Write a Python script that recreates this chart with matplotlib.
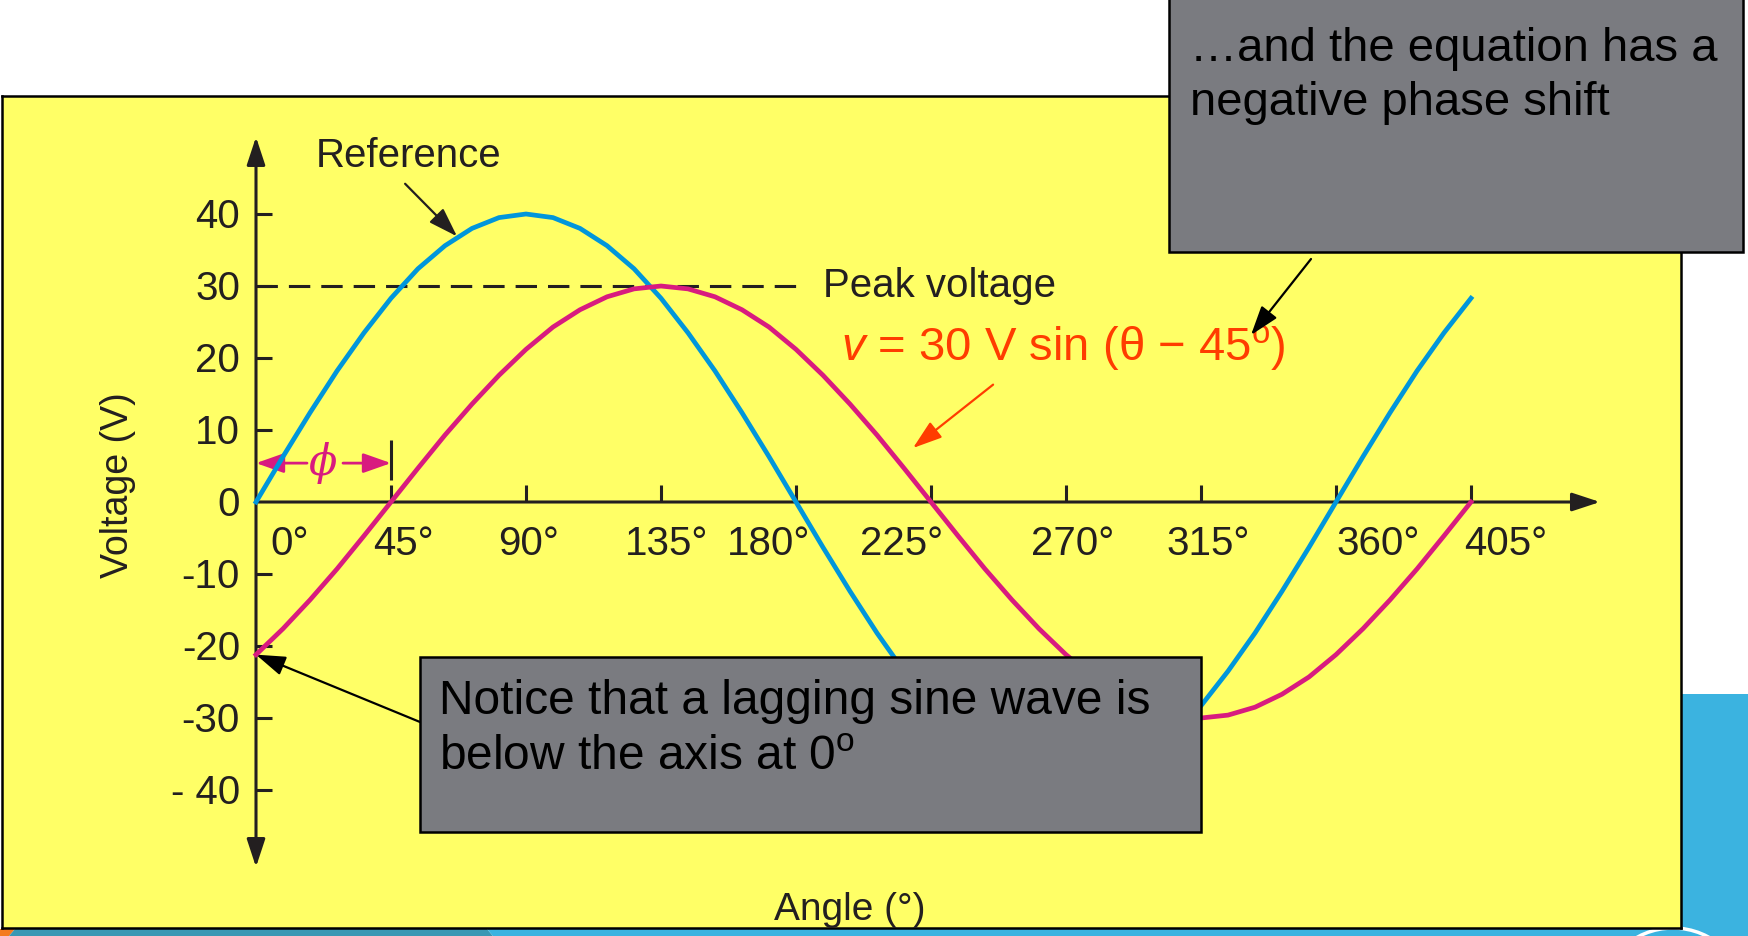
import matplotlib
matplotlib.use('Agg')
import matplotlib.pyplot as plt
from matplotlib.patches import Rectangle, Polygon, Circle

plt.rcParams['font.family'] = ['Liberation Sans', 'DejaVu Sans']
plt.rcParams['mathtext.fontset'] = 'custom'
plt.rcParams['mathtext.rm'] = 'Liberation Sans'
plt.rcParams['mathtext.it'] = 'Liberation Sans:italic'

# readings every 9 degrees
angle = list(range(0, 406, 9))
reference = [0, 6.3, 12.4, 18.2, 23.5, 28.3, 32.4, 35.6, 38.0, 39.5, 40,
             39.5, 38.0, 35.6, 32.4, 28.3, 23.5, 18.2, 12.4, 6.3, 0,
             -6.3, -12.4, -18.2, -23.5, -28.3, -32.4, -35.6, -38.0, -39.5, -40,
             -39.5, -38.0, -35.6, -32.4, -28.3, -23.5, -18.2, -12.4, -6.3, 0,
             6.3, 12.4, 18.2, 23.5, 28.3]
lagging = [-21.2, -17.6, -13.6, -9.3, -4.7, 0, 4.7, 9.3, 13.6, 17.6, 21.2,
           24.3, 26.7, 28.5, 29.6, 30, 29.6, 28.5, 26.7, 24.3, 21.2,
           17.6, 13.6, 9.3, 4.7, 0, -4.7, -9.3, -13.6, -17.6, -21.2,
           -24.3, -26.7, -28.5, -29.6, -30, -29.6, -28.5, -26.7, -24.3, -21.2,
           -17.6, -13.6, -9.3, -4.7, 0]

angle_ticks = [0, 45, 90, 135, 180, 225, 270, 315, 360, 405]
angle_labels = ['0°', '45°', '90°', '135°', '180°', '225°', '270°', '315°', '360°', '405°']
angle_label_x = [11.3, 49, 90.7, 136.7, 170.7, 215.3, 272.3, 317.3, 374, 416.7]
volt_ticks = [40, 30, 20, 10, 0, -10, -20, -30, -40]
volt_labels = ['40', '30', '20', '10', '0', '-10', '-20', '-30', '- 40']
peak = 30
phase = 45

W, H = 1749, 936
K = '#231f20'
BLUE = '#0096db'
PINK = '#d81b7f'
RED = '#ff3c00'
GRAY = '#7a7b80'

fig = plt.figure(figsize=(W / 100, H / 100), dpi=100)

# slide background: stripes along the bottom and right edge
bg = fig.add_axes([0, 0, 1, 1], zorder=0)
bg.set_xlim(0, W)
bg.set_ylim(H, 0)
bg.axis('off')
bg.add_patch(Polygon([(0, 929), (15, 929), (9, 936), (0, 936)], color='#f47b20', lw=0))
bg.add_patch(Polygon([(15, 929), (487, 929), (493, 936), (9, 936)], color='#3a98b4', lw=0))
bg.add_patch(Polygon([(487, 929), (W, 929), (W, 936), (493, 936)], color='#3bb3e0', lw=0))
bg.add_patch(Rectangle((1682, 694), W - 1682, H - 694, color='#3bb3e0', lw=0))
bg.add_patch(Circle((1673, 1002), 74, fill=False, ec='white', lw=2.5))

# chart panel: 0 deg at x=256px, 3 px per degree; 0 V at y=502px, 7.2 px per volt
ax = fig.add_axes([2 / W, (H - 928) / H, (1681 - 2) / W, (928 - 96) / H], zorder=1)
ax.set_facecolor('#ffff66')
ax.set_xlim((2 - 256) / 3, (1681 - 256) / 3)
ax.set_ylim((502 - 928) / 7.2, (502 - 96) / 7.2)
ax.set_xticks([])
ax.set_yticks([])
for s in ax.spines.values():
    s.set_linewidth(1.8)
    s.set_color('black')

# axes with arrowheads
ax.annotate('', xy=(448, 0), xytext=(0, 0),
            arrowprops=dict(arrowstyle='-|>,head_length=0.85,head_width=0.28',
                            color=K, lw=2.2, mutation_scale=20, shrinkA=0, shrinkB=0))
ax.annotate('', xy=(0, 50.7), xytext=(0, -50.7),
            arrowprops=dict(arrowstyle='<|-|>,head_length=0.85,head_width=0.28',
                            color=K, lw=2.2, mutation_scale=20, shrinkA=0, shrinkB=0))
ax.vlines(angle_ticks[1:], 0, 2.4, color=K, lw=2.2)
ax.hlines([v for v in volt_ticks if v != 0], 0, 5.3, color=K, lw=2.2)
for x, lab in zip(angle_label_x, angle_labels):
    ax.text(x, -7.4, lab, ha='center', va='baseline', fontsize=29, color=K)
for v, lab in zip(volt_ticks, volt_labels):
    ax.text(-5.3, v - 2.0, lab, ha='right', va='baseline', fontsize=29, color=K)

ax.text(198, -58, 'Angle (°)', ha='center', va='baseline', fontsize=28, color=K)
ax.text(-46, 2.4, 'Voltage (V)', ha='center', va='center', rotation=90,
        fontsize=27, color=K)

# peak line
ax.plot([0, 181], [peak, peak], color=K, lw=2.2, dashes=(7, 3.6))
ax.text(189, 28.5, 'Peak voltage', ha='left', va='baseline', fontsize=29, color=K)

# waves
ax.plot(angle, reference, color=BLUE, lw=3.4, solid_joinstyle='round', zorder=4)
ax.plot(angle, lagging, color=PINK, lw=3.4, solid_joinstyle='round', zorder=4)

ax.text(20, 46.5, 'Reference', ha='left', va='baseline', fontsize=29, color=K)
ax.annotate('', xy=(67, 36.9), xytext=(49.7, 44.2),
            arrowprops=dict(arrowstyle='-|>,head_length=0.9,head_width=0.3',
                            color=K, lw=1.6, mutation_scale=20, shrinkA=0, shrinkB=0))

ax.text(195, 19.7, r'$v$ = 30 V sin (θ − 45$^{\mathrm{o}}$)', ha='left', va='baseline',
        fontsize=34, color=RED)
ax.annotate('', xy=(219, 7.5), xytext=(245.7, 16.3),
            arrowprops=dict(arrowstyle='-|>,head_length=0.9,head_width=0.3',
                            color=RED, lw=1.6, mutation_scale=20, shrinkA=0, shrinkB=0))

# phase shift marker
ax.vlines(phase, 3.06, 8.6, color=K, lw=2.2)
ax.annotate('', xy=(0, 5.4), xytext=(17, 5.4),
            arrowprops=dict(arrowstyle='-|>,head_length=0.85,head_width=0.3',
                            color=PINK, lw=2, mutation_scale=20, shrinkA=0, shrinkB=0))
ax.annotate('', xy=(phase, 5.4), xytext=(29, 5.4),
            arrowprops=dict(arrowstyle='-|>,head_length=0.85,head_width=0.3',
                            color=PINK, lw=2, mutation_scale=20, shrinkA=0, shrinkB=0))
ax.text(22.3, 5.4, 'ϕ', ha='center', va='center', fontsize=30, color=PINK,
        family='DejaVu Serif', style='italic')

# callout boxes
ov = fig.add_axes([0, 0, 1, 1], zorder=2)
ov.set_xlim(0, W)
ov.set_ylim(H, 0)
ov.axis('off')

ax.annotate('', xy=(0, lagging[0]), xytext=(420, 722), textcoords=ov.transData,
            arrowprops=dict(arrowstyle='-|>,head_length=0.9,head_width=0.3',
                            color='black', lw=1.6, mutation_scale=20, shrinkA=0, shrinkB=0))
ov.add_patch(Rectangle((420, 657), 781, 175, fc=GRAY, ec='black', lw=1.8))
ov.text(439, 714, 'Notice that a lagging sine wave is', fontsize=34.5, color='black',
        va='baseline')
ov.text(439, 770, r'below the axis at 0$^{\mathrm{o}}$', fontsize=34.5, color='black',
        va='baseline')

ov.add_patch(Rectangle((1169, -3), 574, 255, fc=GRAY, ec='black', lw=1.8))
ov.text(1190, 61, '…and the equation has a', fontsize=34, color='black', va='baseline')
ov.text(1190, 115, 'negative phase shift', fontsize=34, color='black', va='baseline')
ov.annotate('', xy=(1251, 335), xytext=(1311, 259),
            arrowprops=dict(arrowstyle='-|>,head_length=0.9,head_width=0.3',
                            color='black', lw=1.6, mutation_scale=20, shrinkA=0, shrinkB=0))

fig.savefig('out.png', dpi=100)
